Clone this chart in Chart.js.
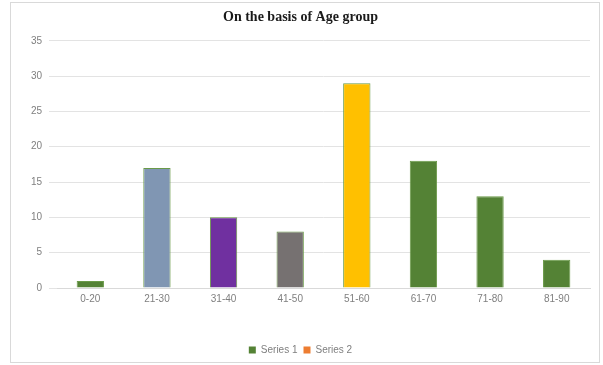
<!DOCTYPE html>
<html>
<head>
<meta charset="utf-8">
<script src="https://cdn.jsdelivr.net/npm/chart.js@4"></script>
<style>
  body { margin: 0; background: #ffffff; }
  #box {
    position: absolute;
    left: 10px;
    top: 2px;
    width: 588px;
    height: 359px;
    border: 1px solid #d9d9d9;
  }
</style>
</head>
<body>
<div id="box"><canvas id="myBarChart" width="588" height="359"></canvas></div>
<script>
let ageGroups = ["0-20", "21-30", "31-40", "41-50", "51-60", "61-70", "71-80", "81-90"];
let series1Values = [1, 17, 10, 8, 29, 18, 13, 4];
let series2Values = [null, null, null, null, null, null, null, null];
let barColors = ["#548235", "#8096b3", "#7030a0", "#767171", "#ffc000", "#548235", "#548235", "#548235"];

let tickFont = { family: "'Liberation Sans Narrow', 'Liberation Sans', sans-serif", size: 10 };

let chart1 = document.getElementById("myBarChart").getContext("2d");

const myChart1 = new Chart(chart1, {
  type: "bar",
  data: {
    labels: ageGroups,
    datasets: [
      {
        label: "Series 1",
        data: series1Values,
        backgroundColor: barColors,
        borderColor: "#6a9a48",
        borderWidth: 1,
      },
      {
        label: "Series 2",
        data: series2Values,
        backgroundColor: "#ed7d31",
        borderColor: "#ed7d31",
        borderWidth: 0,
      },
    ],
  },
  options: {
    responsive: false,
    animation: false,
    grouped: false,
    barPercentage: 0.41,
    categoryPercentage: 1,
    layout: { padding: { left: 0, right: 9, top: 0, bottom: -3 } },
    plugins: {
      title: {
        display: true,
        text: "On the basis of Age group",
        color: "#1a1a1a",
        font: { family: "'Liberation Serif', serif", size: 14, weight: "bold" },
        padding: { top: 6, bottom: 15 },
      },
      legend: {
        position: "bottom",
        labels: {
          boxWidth: 7,
          boxHeight: 7,
          padding: 6,
          color: "#7f7f7f",
          font: tickFont,
          generateLabels: function (chart) {
            return chart.data.datasets.map(function (ds, i) {
              return {
                text: ds.label,
                fillStyle: i == 0 ? "#548235" : "#ed7d31",
                strokeStyle: i == 0 ? "#548235" : "#ed7d31",
                lineWidth: 0,
                fontColor: "#7f7f7f",
                datasetIndex: i,
              };
            });
          },
        },
      },
      tooltip: { enabled: false },
    },
    scales: {
      x: {
        grid: { display: false },
        border: { display: true, color: "#d9d9d9" },
        ticks: { color: "#7f7f7f", font: tickFont, padding: -3 },
        afterFit: function (scale) {
          scale.height = 51;
        },
      },
      y: {
        min: 0,
        max: 35,
        ticks: { stepSize: 5, color: "#7f7f7f", font: tickFont, padding: 7 },
        grid: { color: "#e3e3e3", tickColor: "#e3e3e3", tickLength: 8 },
        border: { display: false },
        afterFit: function (scale) {
          scale.width = 46;
        },
      },
    },
  },
});
</script>
</body>
</html>
